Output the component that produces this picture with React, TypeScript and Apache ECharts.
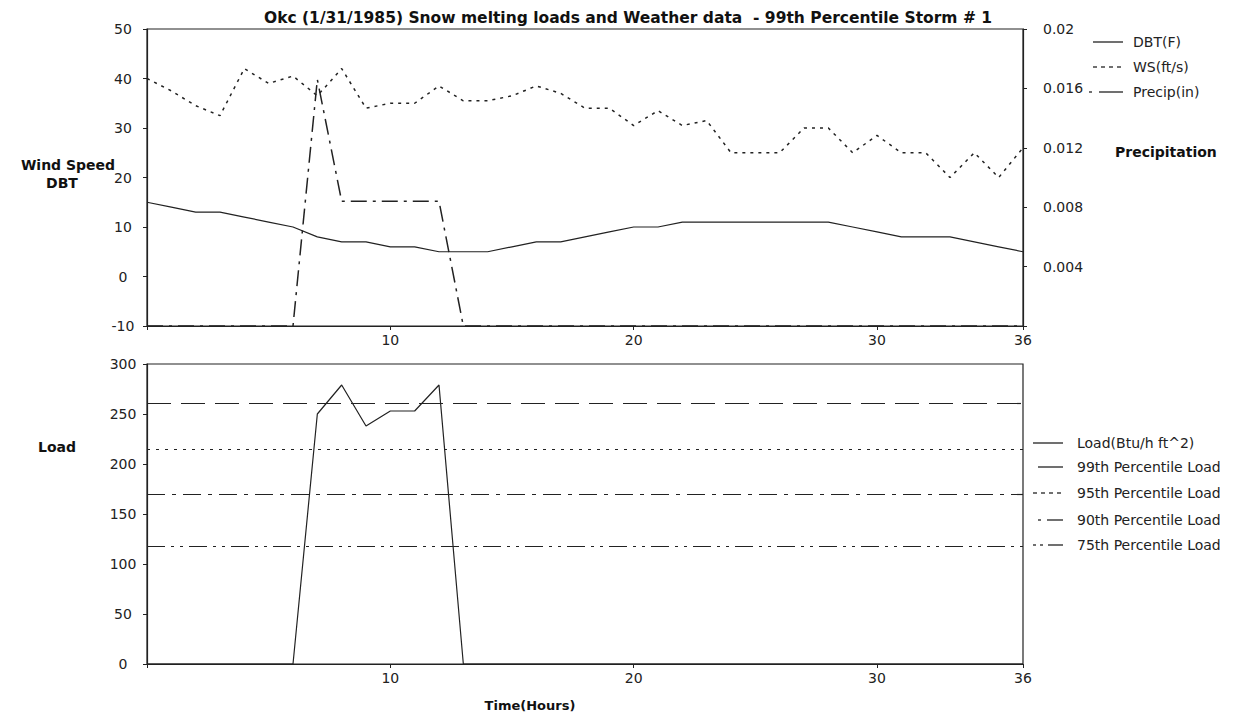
import React, { useEffect, useRef } from "react";
import * as echarts from "echarts";

// ---- Data ----
const HOURS = [0, 1, 2, 3, 4, 5, 6, 7, 8, 9, 10, 11, 12, 13, 14, 15, 16, 17, 18, 19, 20, 21, 22, 23, 24, 25, 26, 27, 28, 29, 30, 31, 32, 33, 34, 35, 36];
const DBT = [15, 14, 13, 13, 12, 11, 10, 8, 7, 7, 6, 6, 5, 5, 5, 6, 7, 7, 8, 9, 10, 10, 11, 11, 11, 11, 11, 11, 11, 10, 9, 8, 8, 8, 7, 6, 5];
const WS = [40, 37.5, 34.5, 32.5, 42, 39, 40.5, 36.5, 42, 34, 35, 35, 38.5, 35.5, 35.5, 36.5, 38.5, 37, 34, 34, 30.5, 33.5, 30.5, 31.5, 25, 25, 25, 30, 30, 25, 28.5, 25, 25, 20, 25, 20, 26];
const PRECIP = [0, 0, 0, 0, 0, 0, 0, 0.0166, 0.0084, 0.0084, 0.0084, 0.0084, 0.0084, 0, 0, 0, 0, 0, 0, 0, 0, 0, 0, 0, 0, 0, 0, 0, 0, 0, 0, 0, 0, 0, 0, 0, 0];
const LOAD = [0, 0, 0, 0, 0, 0, 0, 250, 279, 238, 253, 253, 279, 0, 0, 0, 0, 0, 0, 0, 0, 0, 0, 0, 0, 0, 0, 0, 0, 0, 0, 0, 0, 0, 0, 0, 0];
const P99 = 261;
const P95 = 215;
const P90 = 170;
const P75 = 118;

const TITLE = "Okc (1/31/1985) Snow melting loads and Weather data  - 99th Percentile Storm # 1";
const TOP_LEGEND = ["DBT(F)", "WS(ft/s)", "Precip(in)"];
const BOTTOM_LEGEND = ["Load(Btu/h ft^2)", "99th Percentile Load", "95th Percentile Load", "90th Percentile Load", "75th Percentile Load"];

const INK = "#222";
const FONT = "DejaVu Sans";

const DASH_WS: number[] = [3, 5];
const DASH_PRECIP: number[] = [16, 6, 3, 6];
const DASH_P99: number[] = [24, 10];
const DASH_P95: number[] = [3, 6];
const DASH_P90: number[] = [18, 7, 4, 7];
const DASH_P75: number[] = [18, 6, 3, 6, 3, 6];

function pairs(vals: number[]) {
  return HOURS.map((h, i) => [h, vals[i]]);
}

// legend symbol made of segments [x1, x2]
function legendSymbol(segs: number[][], y: number) {
  return segs.map(([x1, x2]) => ({
    type: "line",
    shape: { x1, y1: y, x2, y2: y },
    style: { stroke: INK, lineWidth: 1.3 },
  }));
}

function legendText(x: number, y: number, text: string) {
  return {
    type: "text",
    x,
    y,
    style: { text, fill: INK, font: `14px "${FONT}"`, textVerticalAlign: "middle", textAlign: "left" },
  };
}

function boldText(x: number, y: number, text: string, align: string, size = 14) {
  return {
    type: "text",
    x,
    y,
    style: { text, fill: "#111", font: `bold ${size}px "${FONT}"`, textVerticalAlign: "middle", textAlign: align },
  };
}

export default function App() {
  const ref = useRef<HTMLDivElement>(null);

  useEffect(() => {
    if (!ref.current) return;
    const chart = echarts.init(ref.current, null, { renderer: "svg" });

    const xLabel = {
      color: INK,
      fontFamily: FONT,
      fontSize: 14,
      margin: 7,
      formatter: (v: number) => (v === 0 ? "" : String(v)),
    };
    const axisLine = { show: true, onZero: false, lineStyle: { color: INK, width: 1.2 } };
    const axisTick = { show: true, length: 4, lineStyle: { color: INK } };

    const option: any = {
      animation: false,
      backgroundColor: "#fff",
      grid: [
        { left: 147, top: 29, width: 876, height: 297, show: true, borderColor: INK, borderWidth: 1.2, backgroundColor: "transparent" },
        { left: 147, top: 364, width: 876, height: 300, show: true, borderColor: INK, borderWidth: 1.2, backgroundColor: "transparent" },
      ],
      xAxis: [
        { type: "value", gridIndex: 0, min: 0, max: 36, interval: 10, axisLine, axisTick, splitLine: { show: false }, axisLabel: xLabel },
        { type: "value", gridIndex: 1, min: 0, max: 36, interval: 10, axisLine, axisTick, splitLine: { show: false }, axisLabel: xLabel },
      ],
      yAxis: [
        {
          type: "value", gridIndex: 0, min: -10, max: 50, interval: 10, position: "left",
          axisLine, axisTick, splitLine: { show: false },
          axisLabel: { color: INK, fontFamily: FONT, fontSize: 14, margin: 24, align: "center" },
        },
        {
          type: "value", gridIndex: 0, min: 0, max: 0.02, interval: 0.004, position: "right",
          axisLine, axisTick, splitLine: { show: false },
          axisLabel: {
            color: INK, fontFamily: FONT, fontSize: 14, margin: 20,
            formatter: (v: number) => (v === 0 ? "" : String(parseFloat(v.toFixed(3)))),
          },
        },
        {
          type: "value", gridIndex: 1, min: 0, max: 300, interval: 50, position: "left",
          axisLine, axisTick, splitLine: { show: false },
          axisLabel: { color: INK, fontFamily: FONT, fontSize: 14, margin: 24, align: "center" },
        },
      ],
      series: [
        {
          name: "DBT(F)", type: "line", xAxisIndex: 0, yAxisIndex: 0, data: pairs(DBT),
          showSymbol: false, lineStyle: { color: INK, width: 1.2 },
        },
        {
          name: "WS(ft/s)", type: "line", xAxisIndex: 0, yAxisIndex: 0, data: pairs(WS),
          showSymbol: false, lineStyle: { color: INK, width: 1.5, type: DASH_WS },
        },
        {
          name: "Precip(in)", type: "line", xAxisIndex: 0, yAxisIndex: 1, data: pairs(PRECIP),
          showSymbol: false, lineStyle: { color: INK, width: 1.5, type: DASH_PRECIP },
        },
        {
          name: "Load(Btu/h ft^2)", type: "line", xAxisIndex: 1, yAxisIndex: 2, data: pairs(LOAD),
          showSymbol: false, lineStyle: { color: INK, width: 1.2 },
          markLine: {
            silent: true, symbol: "none", label: { show: false },
            data: [
              { yAxis: P99, lineStyle: { color: INK, width: 1.2, type: DASH_P99 } },
              { yAxis: P95, lineStyle: { color: INK, width: 1.2, type: DASH_P95 } },
              { yAxis: P90, lineStyle: { color: INK, width: 1.2, type: DASH_P90 } },
              { yAxis: P75, lineStyle: { color: INK, width: 1.2, type: DASH_P75 } },
            ],
          },
        },
      ],
      graphic: [
        boldText(628, 18, TITLE, "center", 15.5),
        boldText(68, 165, "Wind Speed", "center"),
        boldText(62, 183, "DBT", "center"),
        boldText(1115, 152, "Precipitation", "left"),
        boldText(57, 447, "Load", "center"),
        boldText(530, 705, "Time(Hours)", "center", 13),
        ...legendSymbol([[1093, 1123]], 42),
        legendText(1133, 42, TOP_LEGEND[0]),
        ...legendSymbol([[1093, 1097], [1101, 1105], [1109, 1113], [1117, 1121]], 67),
        legendText(1133, 67, TOP_LEGEND[1]),
        ...legendSymbol([[1089, 1092], [1099, 1123]], 92),
        legendText(1133, 92, TOP_LEGEND[2]),
        ...legendSymbol([[1033, 1063]], 443),
        legendText(1077, 443, BOTTOM_LEGEND[0]),
        ...legendSymbol([[1038, 1063]], 467),
        legendText(1077, 467, BOTTOM_LEGEND[1]),
        ...legendSymbol([[1033, 1037], [1041, 1045], [1049, 1053], [1057, 1061]], 493),
        legendText(1077, 493, BOTTOM_LEGEND[2]),
        ...legendSymbol([[1038, 1041], [1047, 1063]], 520),
        legendText(1077, 520, BOTTOM_LEGEND[3]),
        ...legendSymbol([[1033, 1036], [1040, 1043], [1048, 1063]], 545),
        legendText(1077, 545, BOTTOM_LEGEND[4]),
      ],
    };

    chart.setOption(option);
    return () => chart.dispose();
  }, []);

  return <div ref={ref} style={{ position: "absolute", left: 0, top: 0, width: 1238, height: 716 }} />;
}
